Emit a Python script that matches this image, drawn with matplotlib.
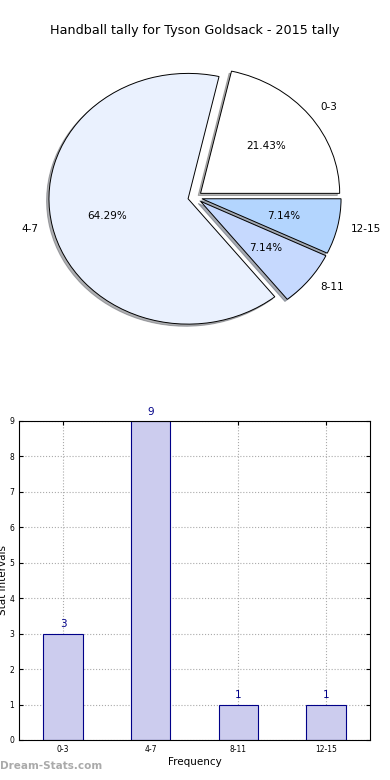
import matplotlib
matplotlib.use("Agg")
import matplotlib.pyplot as plt

categories = ['0-3', '4-7', '8-11', '12-15']
counts = [3, 9, 1, 1]
pie_colors = ['#ffffff', '#eaf1fe', '#c6d9fe', '#b3d5fe']

fig = plt.figure(figsize=(3.9, 7.8), dpi=100)

# pie
ax1 = fig.add_axes([0.045, 0.542, 0.91, 0.41])
ax1.pie(counts, labels=categories, colors=pie_colors, autopct='%1.2f%%',
        explode=[0.05] * len(counts), shadow={'ox': -0.012, 'oy': -0.012, 'shade': 0.6},
        startangle=0, radius=0.98,
        wedgeprops=dict(edgecolor='black', linewidth=0.7),
        textprops=dict(fontsize=7.5))
ax1.set_aspect('auto')
ax1.set_xlim(-1.25, 1.25)
ax1.set_ylim(-1.25, 1.25)
fig.text(0.5, 0.961, 'Handball tally for Tyson Goldsack - 2015 tally',
         ha='center', va='center', fontsize=9.2)

# bars
ax2 = fig.add_axes([0.049, 0.0513, 0.9, 0.409])
x = range(len(categories))
bars = ax2.bar(x, counts, width=0.45, color='#ccccee', edgecolor='#000088', linewidth=0.8, zorder=2)
for xi, v in zip(x, counts):
    ax2.text(xi, v + 0.12, str(v), ha='center', va='bottom', color='#000088', fontsize=7.5)
ax2.set_xlim(-0.5, 3.5)
ax2.set_ylim(0, 9)
ax2.set_yticks(range(0, 10))
ax2.set_xticks(list(x))
ax2.set_xticklabels(categories)
ax2.tick_params(direction='in', top=True, right=True, labelsize=5.5, length=3)
ax2.grid(True, linestyle=':', color='#aaaaaa', linewidth=0.8, zorder=0)
ax2.set_axisbelow(True)
ax2.set_xlabel('Frequency', fontsize=7.5, labelpad=2)
ax2.set_ylabel('Stat Intervals', fontsize=7.5, labelpad=1)

fig.text(0.0, 0.012, 'Dream-Stats.com', color='#aaaaaa', fontsize=7.5, fontweight='bold', ha='left', va='bottom')

fig.savefig('out.png', dpi=100)
